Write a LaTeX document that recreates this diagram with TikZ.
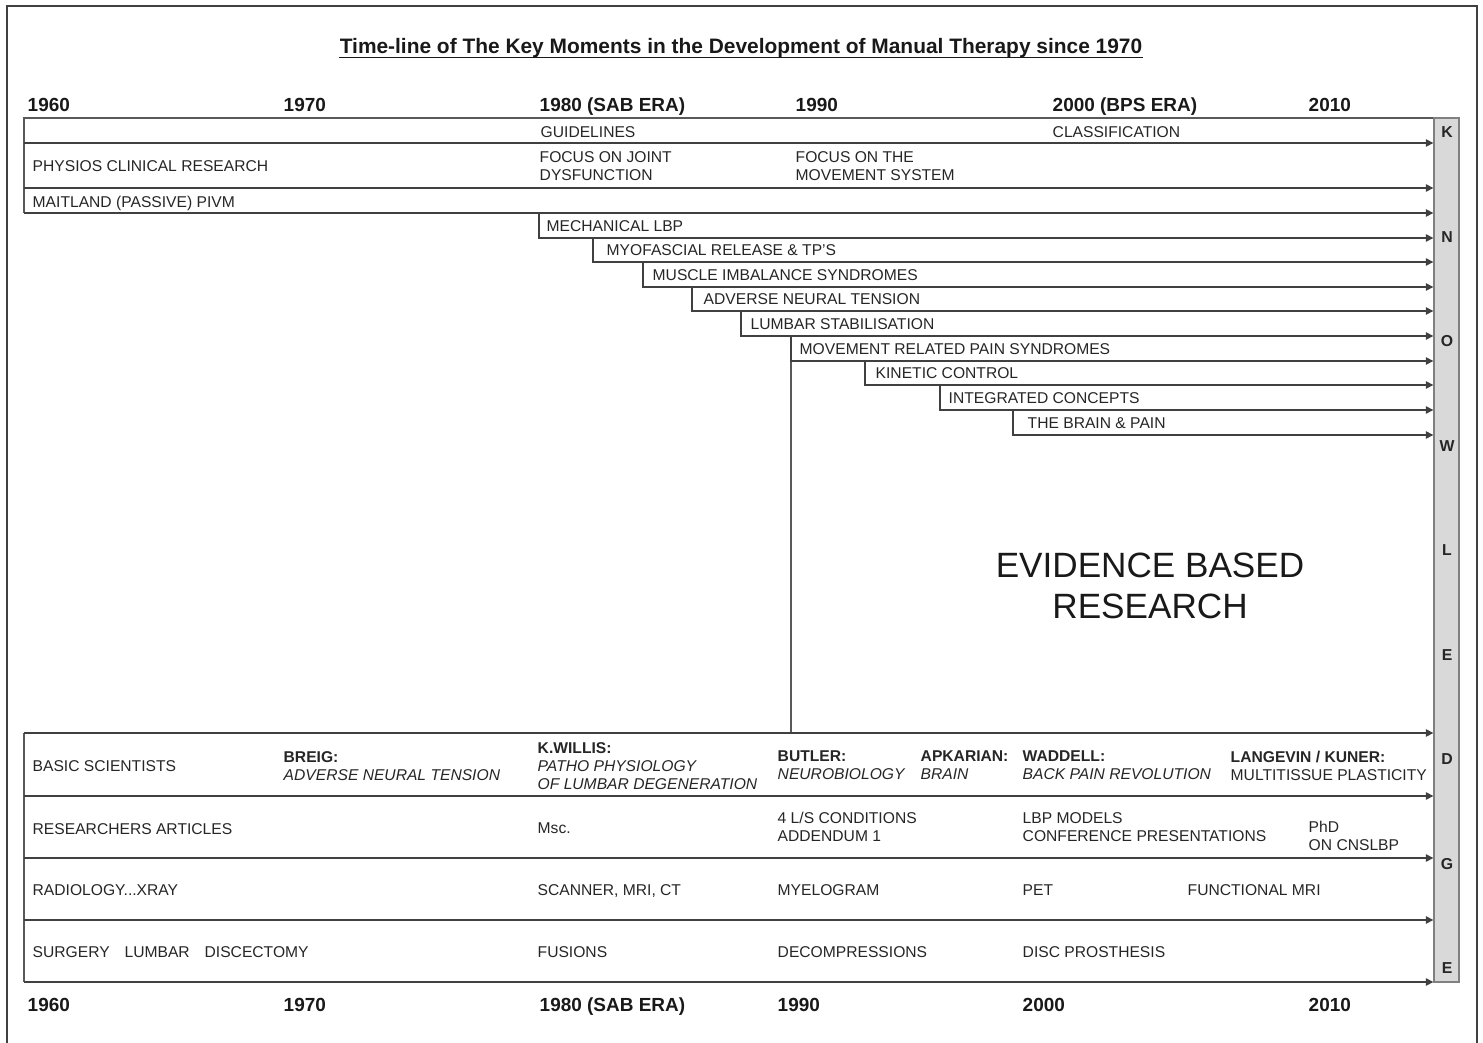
\documentclass[tikz,border=0pt]{standalone}
\usepackage{fontspec}
\setmainfont{Liberation Sans}
\usetikzlibrary{arrows.meta, positioning}

\begin{document}
\begin{tikzpicture} [x=0.02cm, y=-0.02cm, line width=0.8pt,
  txt/.style={anchor=base west, inner sep=0pt, text=black!85, font=\fontsize{8.9}{10.2}\selectfont},
  two/.style={anchor=west, inner sep=0pt, align=left, text=black!85, font=\fontsize{8.9}{10.2}\selectfont},
  year/.style={anchor=base west, inner sep=0pt, text=black!90, font=\fontsize{10.8}{13}\selectfont\bfseries},
  letter/.style={inner sep=0pt, on grid, text=black!85, font=\fontsize{9}{10}\selectfont\bfseries},
  line/.style={draw=black!65},
  arr/.style={black!75, -{Triangle[length=4.2pt, width=4.2pt]}},
  elbow/.style={to path={|- (\tikztotarget)}}]

\useasboundingbox (0,0) rectangle (1483,1043);
\draw [black!75] (7,1043) -- (7,6) -- (1477,6) -- (1477,1043);

\node (title) [anchor=base, inner sep=0pt, text=black!90, font=\fontsize{11.9}{14}\selectfont\bfseries] at (741,54) {Time-line of The Key Moments in the Development of Manual Therapy since 1970};
\draw [black!90, line width=0.7pt] ([yshift=-2.2pt]title.base west) -- ([yshift=-2.2pt]title.base east);

\node (bar) [draw=black!50, fill=black!15, minimum width=0.5cm, minimum height=17.28cm, inner sep=0pt] at (1446.5,550) {};
\node (k) [letter] at (1447,132.5) {K};
\node (n) [letter, below=2.09cm of k] {N};
\node (o) [letter, below=2.09cm of n] {O};
\node (w) [letter, below=2.09cm of o] {W};
\node (l) [letter, below=2.09cm of w] {L};
\node (e1) [letter, below=2.09cm of l] {E};
\node (d) [letter, below=2.09cm of e1] {D};
\node (g) [letter, below=2.09cm of d] {G};
\node (e2) [letter, below=2.09cm of g] {E};

\node (y60) [year] at (27,111.5) {1960};
\node (y70) [year] at (283,111.5) {1970};
\node (y80) [year] at (539,111.5) {1980 (SAB ERA)};
\node (y90) [year] at (795,111.5) {1990};
\node (y00) [year] at (1052,111.5) {2000 (BPS ERA)};
\node (y10) [year] at (1308,111.5) {2010};
\node (z60) [year] at (27,1011.5) {1960};
\node (z70) [year] at (283,1011.5) {1970};
\node (z80) [year] at (539,1011.5) {1980 (SAB ERA)};
\node (z90) [year] at (777,1011.5) {1990};
\node (z00) [year] at (1022,1011.5) {2000};
\node (z10) [year] at (1308,1011.5) {2010};

\coordinate (r0) at (24,118);
\coordinate (r1) at (24,143);
\coordinate (r2) at (24,188);
\coordinate (r3) at (24,213);
\coordinate (s1) at (539,213);
\coordinate (s2) at (593,238);
\coordinate (s3) at (643,262);
\coordinate (s4) at (692,287);
\coordinate (s5) at (741,311);
\coordinate (s6) at (791,336);
\coordinate (s7) at (865,361);
\coordinate (s8) at (940,385);
\coordinate (s9) at (1013,410);
\coordinate (s10) at (1013,435);
\coordinate (b0) at (24,733);
\coordinate (b1) at (24,796);
\coordinate (b2) at (24,858);
\coordinate (b3) at (24,920);
\coordinate (b4) at (24,982);

\draw [line] (r3) -- (r0) -- (r0 -| bar.west);
\draw [line] (s6) -- (s6 |- b0);
\draw [line] (b0) -- (b4);

\path [arr]
    (r1) edge (r1 -| bar.west)
    (r2) edge (r2 -| bar.west)
    (r3) edge (r3 -| bar.west)

    (s1) edge [elbow] (s2 -| bar.west)
    (s2) edge [elbow] (s3 -| bar.west)
    (s3) edge [elbow] (s4 -| bar.west)
    (s4) edge [elbow] (s5 -| bar.west)
    (s5) edge [elbow] (s6 -| bar.west)
    (s6) edge [elbow] (s7 -| bar.west)
    (s7) edge [elbow] (s8 -| bar.west)
    (s8) edge [elbow] (s9 -| bar.west)
    (s9) edge [elbow] (s10 -| bar.west)

    (b0) edge (b0 -| bar.west)
    (b1) edge (b1 -| bar.west)
    (b2) edge (b2 -| bar.west)
    (b3) edge (b3 -| bar.west)
    (b4) edge (b4 -| bar.west);

\node (guide) [txt] at (540,137.5) {GUIDELINES};
\node (class) [txt] at (1052,137.5) {CLASSIFICATION};
\node (physio) [txt] at (32,171.5) {PHYSIOS CLINICAL RESEARCH};
\node (joint) [two] at (539,166) {FOCUS ON JOINT\\DYSFUNCTION};
\node (system) [two] at (795,166) {FOCUS ON THE\\MOVEMENT SYSTEM};
\node (mait) [txt] at (32,207.5) {MAITLAND (PASSIVE) PIVM};
\node (mech) [txt] at (546,231.5) {MECHANICAL LBP};
\node (myo) [txt] at (606,255.5) {MYOFASCIAL RELEASE \& TP'S};
\node (musc) [txt] at (652,280.5) {MUSCLE IMBALANCE SYNDROMES};
\node (adv) [txt] at (703,304.5) {ADVERSE NEURAL TENSION};
\node (lumb) [txt] at (750,329.5) {LUMBAR STABILISATION};
\node (mrps) [txt] at (799,354.5) {MOVEMENT RELATED PAIN SYNDROMES};
\node (kin) [txt] at (875,378.5) {KINETIC CONTROL};
\node (integ) [txt] at (948,403.5) {INTEGRATED CONCEPTS};
\node (brain) [txt] at (1027,428.5) {THE BRAIN \& PAIN};

\node (ebr) [align=center, inner sep=0pt, text=black!90, font=\fontsize{20}{23.2}\selectfont] at (1150,586) {EVIDENCE BASED\\RESEARCH};

\node (basic) [txt] at (32,771) {BASIC SCIENTISTS};
\node (breig) [two] at (283,766) {\textbf{BREIG:}\\\textit{ADVERSE NEURAL TENSION}};
\node (willis) [two] at (537,766) {\textbf{K.WILLIS:}\\\textit{PATHO PHYSIOLOGY}\\\textit{OF LUMBAR DEGENERATION}};
\node (butler) [two] at (777,765.5) {\textbf{BUTLER:}\\\textit{NEUROBIOLOGY}};
\node (apk) [two] at (920,765.5) {\textbf{APKARIAN:}\\\textit{BRAIN}};
\node (wadd) [two] at (1022,765.5) {\textbf{WADDELL:}\\\textit{BACK PAIN REVOLUTION}};
\node (lang) [two] at (1230,765.5) {\textbf{LANGEVIN / KUNER:}\\MULTITISSUE PLASTICITY};
\node (res) [txt] at (32,834) {RESEARCHERS ARTICLES};
\node (msc) [txt] at (537,833.5) {Msc.};
\node (cond) [two] at (777,827) {4 L/S CONDITIONS\\ADDENDUM 1};
\node (lbp) [two] at (1022,827) {LBP MODELS\\CONFERENCE PRESENTATIONS};
\node (phd) [two] at (1308,836) {PhD\\ON CNSLBP};
\node (radio) [txt] at (32,895.5) {RADIOLOGY...XRAY};
\node (scan) [txt] at (537,895.5) {SCANNER, MRI, CT};
\node (myel) [txt] at (777,895.5) {MYELOGRAM};
\node (pet) [txt] at (1022,895.5) {PET};
\node (fmri) [txt] at (1187,895.5) {FUNCTIONAL MRI};
\node (surg) [txt] at (32,957) {SURGERY\hspace{6pt} LUMBAR\hspace{6pt} DISCECTOMY};
\node (fus) [txt] at (537,957) {FUSIONS};
\node (decomp) [txt] at (777,957) {DECOMPRESSIONS};
\node (disc) [txt] at (1022,957) {DISC PROSTHESIS};
\end{tikzpicture}
\end{document}
